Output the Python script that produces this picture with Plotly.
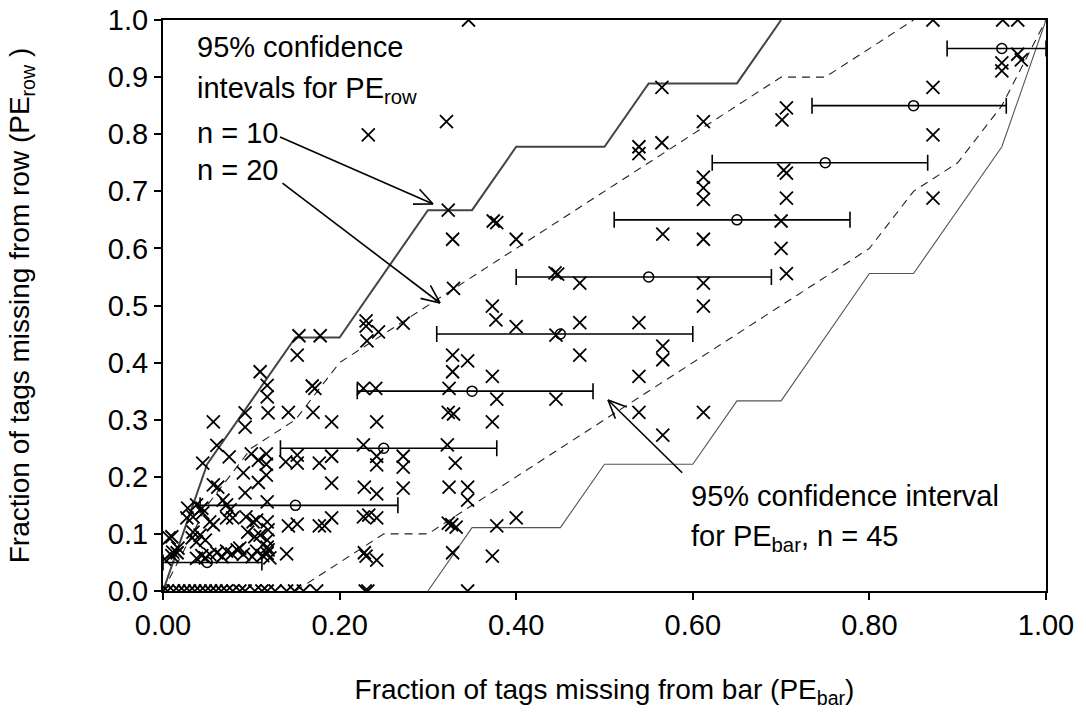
import math
import plotly.graph_objects as go

# ---------------- data ----------------
# observed points (PE_bar, PE_row)
pe_bar = [
    0.346, 0.872, 0.951, 0.968, 0.968, 0.972, 0.950, 0.950, 0.872, 0.565,
    0.706, 0.701, 0.612, 0.321, 0.2325, 0.872, 0.565, 0.539, 0.539, 0.703,
    0.706, 0.612, 0.612, 0.612, 0.706, 0.872, 0.323, 0.700, 0.374, 0.378,
    0.566, 0.328, 0.400, 0.612, 0.700, 0.444, 0.447, 0.706, 0.472, 0.612,
    0.329, 0.373, 0.612, 0.377, 0.400, 0.472, 0.539, 0.272, 0.230, 0.230,
    0.244, 0.231, 0.445, 0.154, 0.178, 0.566, 0.566, 0.152, 0.328, 0.345,
    0.472, 0.110, 0.328, 0.373, 0.539, 0.118, 0.118, 0.169, 0.172, 0.227,
    0.241, 0.324, 0.378, 0.445, 0.323, 0.329, 0.539, 0.612, 0.373, 0.057,
    0.093, 0.093, 0.119, 0.142, 0.170, 0.191, 0.242, 0.566, 0.322, 0.061,
    0.227, 0.075, 0.045, 0.100, 0.108, 0.117, 0.117, 0.139, 0.152, 0.152,
    0.177, 0.191, 0.242, 0.242, 0.272, 0.272, 0.331, 0.057, 0.062, 0.091,
    0.093, 0.108, 0.117, 0.118, 0.191, 0.228, 0.242, 0.272, 0.324, 0.345,
    0.345, 0.028, 0.027, 0.034, 0.038, 0.044, 0.045, 0.053, 0.057, 0.068,
    0.072, 0.076, 0.072, 0.079, 0.094, 0.102, 0.106, 0.118, 0.119, 0.142,
    0.152, 0.177, 0.183, 0.191, 0.227, 0.233, 0.242, 0.323, 0.332, 0.327,
    0.378, 0.400, 0.007, 0.010, 0.017, 0.011, 0.033, 0.034, 0.038, 0.042,
    0.048, 0.096, 0.104, 0.110, 0.118, 0.118, 0.119,
    0.002, 0.010, 0.016, 0.038, 0.044, 0.048, 0.053, 0.061, 0.067, 0.072,
    0.078, 0.084, 0.087, 0.091, 0.101, 0.106, 0.113, 0.118, 0.121,
    0.140, 0.228, 0.230, 0.242, 0.328, 0.373,
    0.000, 0.005, 0.012, 0.018, 0.024, 0.030, 0.036, 0.042, 0.048, 0.054,
    0.060, 0.066, 0.072, 0.079, 0.087, 0.093, 0.104, 0.112, 0.118, 0.127,
    0.140, 0.149, 0.159, 0.174, 0.229, 0.232, 0.345,
]
pe_row = [
    1.000, 1.000, 1.000, 1.000, 0.940, 0.930, 0.925, 0.911, 0.882, 0.882,
    0.846, 0.825, 0.822, 0.822, 0.799, 0.799, 0.785, 0.778, 0.766, 0.737,
    0.732, 0.725, 0.706, 0.686, 0.688, 0.688, 0.667, 0.648, 0.648, 0.645,
    0.625, 0.616, 0.616, 0.616, 0.600, 0.557, 0.555, 0.556, 0.539, 0.539,
    0.530, 0.499, 0.499, 0.475, 0.463, 0.470, 0.470, 0.469, 0.473, 0.464,
    0.454, 0.438, 0.448, 0.447, 0.447, 0.429, 0.405, 0.413, 0.413, 0.403,
    0.413, 0.384, 0.384, 0.376, 0.376, 0.360, 0.340, 0.359, 0.355, 0.355,
    0.355, 0.355, 0.336, 0.336, 0.313, 0.310, 0.313, 0.313, 0.296, 0.296,
    0.312, 0.287, 0.312, 0.313, 0.313, 0.296, 0.296, 0.273, 0.256, 0.255,
    0.256, 0.235, 0.224, 0.240, 0.229, 0.240, 0.222, 0.226, 0.238, 0.224,
    0.224, 0.236, 0.236, 0.221, 0.236, 0.217, 0.224, 0.186, 0.182, 0.207,
    0.172, 0.190, 0.203, 0.156, 0.189, 0.182, 0.170, 0.180, 0.182, 0.182,
    0.159, 0.145, 0.128, 0.130, 0.151, 0.145, 0.137, 0.121, 0.116, 0.159,
    0.151, 0.142, 0.128, 0.128, 0.130, 0.121, 0.124, 0.121, 0.107, 0.114,
    0.117, 0.114, 0.114, 0.128, 0.130, 0.133, 0.128, 0.119, 0.112, 0.116,
    0.114, 0.128, 0.093, 0.095, 0.075, 0.068, 0.093, 0.103, 0.086, 0.098,
    0.089, 0.103, 0.095, 0.098, 0.089, 0.077, 0.072,
    0.056, 0.062, 0.067, 0.057, 0.062, 0.058, 0.064, 0.067, 0.060, 0.070,
    0.065, 0.072, 0.075, 0.064, 0.060, 0.070, 0.062, 0.066, 0.058,
    0.065, 0.067, 0.061, 0.054, 0.067, 0.061,
    0.000, 0.000, 0.000, 0.000, 0.000, 0.000, 0.000, 0.000, 0.000, 0.000,
    0.000, 0.000, 0.000, 0.000, 0.000, 0.000, 0.000, 0.000, 0.000, 0.000,
    0.000, 0.000, 0.000, 0.000, 0.000, 0.000, 0.000,
]

# 95% CI for PE_bar (n = 45) at each PE_row level
ci_center = [0.05, 0.15, 0.25, 0.35, 0.45, 0.55, 0.65, 0.75, 0.85, 0.95]
ci_minus = [0.050, 0.108, 0.117, 0.130, 0.140, 0.150, 0.139, 0.128, 0.115, 0.062]
ci_plus = [0.062, 0.116, 0.128, 0.137, 0.150, 0.139, 0.128, 0.116, 0.105, 0.050]

# 95% CI for PE_row, n = 10 (solid)
n10_upper_x = [0.0, 0.05, 0.10, 0.15, 0.20, 0.30, 0.35, 0.40, 0.50, 0.55, 0.65, 0.70]
n10_upper_y = [0.0, 0.222, 0.333, 0.444, 0.444, 0.667, 0.667, 0.778, 0.778, 0.889, 0.889, 1.0]
n10_lower_x = [0.30, 0.35, 0.45, 0.50, 0.60, 0.65, 0.70, 0.80, 0.85, 0.90, 0.95, 1.0]
n10_lower_y = [0.0, 0.111, 0.111, 0.222, 0.222, 0.333, 0.333, 0.556, 0.556, 0.667, 0.778, 1.0]

# 95% CI for PE_row, n = 20 (dashed)
n20_upper_x = [0.0, 0.05, 0.10, 0.15, 0.20, 0.25, 0.30, 0.35, 0.40, 0.45, 0.50, 0.55,
               0.60, 0.65, 0.70, 0.75, 0.80, 0.85]
n20_upper_y = [0.0, 0.15, 0.25, 0.30, 0.40, 0.45, 0.50, 0.55, 0.60, 0.65, 0.70, 0.75,
               0.80, 0.85, 0.90, 0.90, 0.95, 1.0]
n20_lower_x = [0.15, 0.20, 0.25, 0.30, 0.35, 0.40, 0.45, 0.50, 0.55, 0.60, 0.65, 0.70,
               0.75, 0.80, 0.85, 0.90, 0.95, 1.0]
n20_lower_y = [0.0, 0.05, 0.10, 0.10, 0.15, 0.20, 0.25, 0.30, 0.35, 0.40, 0.45, 0.50,
               0.55, 0.60, 0.70, 0.75, 0.85, 1.0]

x_ticks = [0.0, 0.2, 0.4, 0.6, 0.8, 1.0]
x_tick_text = ["0.00", "0.20", "0.40", "0.60", "0.80", "1.00"]
y_ticks = [i / 10 for i in range(11)]
y_tick_text = ["%.1f" % v for v in y_ticks]

# ---------------- figure ----------------
W, H = 1086, 715
ML, MR, MT, MB = 163, 40, 20, 124
PW, PH = W - ML - MR, H - MT - MB
FONT = "Arial, Liberation Sans, sans-serif"

fig = go.Figure()

fig.add_trace(go.Scatter(x=n20_upper_x, y=n20_upper_y, mode="lines",
                         line=dict(color="#222222", width=1.1, dash="8px,6px")))
fig.add_trace(go.Scatter(x=n20_lower_x, y=n20_lower_y, mode="lines",
                         line=dict(color="#222222", width=1.1, dash="8px,6px")))
fig.add_trace(go.Scatter(x=n10_upper_x, y=n10_upper_y, mode="lines",
                         line=dict(color="#444444", width=2)))
fig.add_trace(go.Scatter(x=n10_lower_x, y=n10_lower_y, mode="lines",
                         line=dict(color="#555555", width=1.1)))

fig.add_trace(go.Scatter(x=pe_bar, y=pe_row, mode="markers",
                         marker=dict(symbol="x-thin", size=13, color="black",
                                     line=dict(color="black", width=1.8))))

fig.add_trace(go.Scatter(x=ci_center, y=ci_center, mode="markers",
                         marker=dict(symbol="circle-open", size=10, color="black",
                                     line=dict(color="black", width=1.5)),
                         error_x=dict(type="data", symmetric=False, array=ci_plus,
                                      arrayminus=ci_minus, color="black",
                                      thickness=1.6, width=8)))


def arrow(x0, y0, x1, y1, L=20, ang=24):
    dx, dy = (x1 - x0) * PW, (y1 - y0) * PH
    n = math.hypot(dx, dy)
    ux, uy = dx / n, dy / n
    shapes = [dict(type="line", xref="x", yref="y", x0=x0, y0=y0, x1=x1, y1=y1,
                   line=dict(color="black", width=1.6))]
    for s in (1, -1):
        a = math.radians(ang) * s
        rx = -(ux * math.cos(a) - uy * math.sin(a))
        ry = -(ux * math.sin(a) + uy * math.cos(a))
        shapes.append(dict(type="line", xref="x", yref="y", x0=x1, y0=y1,
                           x1=x1 + rx * L / PW, y1=y1 + ry * L / PH,
                           line=dict(color="black", width=1.6)))
    return shapes


shapes = []
shapes += arrow(0.1325, 0.795, 0.3058, 0.6778)
shapes += arrow(0.1353, 0.7145, 0.3137, 0.5044)
shapes += arrow(0.588, 0.207, 0.504, 0.3345)

ann_font = dict(family=FONT, size=29, color="black")
annotations = [
    dict(x=0.036, y=0.953, text="95% confidence"),
    dict(x=0.036, y=0.878, text="intevals for PE<sub>row</sub>"),
    dict(x=0.036, y=0.802, text="n = 10"),
    dict(x=0.036, y=0.737, text="n = 20"),
    dict(x=0.596, y=0.166, text="95% confidence interval"),
    dict(x=0.596, y=0.092, text="for PE<sub>bar</sub>, n = 45"),
]
for a in annotations:
    a.update(xref="x", yref="y", xanchor="left", yanchor="middle",
             showarrow=False, font=ann_font)

axis_common = dict(showline=True, linecolor="black", linewidth=2, mirror=True,
                   ticks="outside", ticklen=7, tickwidth=1.5, tickcolor="black",
                   showgrid=False, zeroline=False, automargin=False,
                   tickfont=dict(family=FONT, size=29, color="black"))

fig.update_layout(
    width=W, height=H,
    margin=dict(l=ML, r=MR, t=MT, b=MB),
    paper_bgcolor="white", plot_bgcolor="white",
    showlegend=False,
    shapes=shapes,
    annotations=annotations,
    xaxis=dict(range=[0, 1], tickvals=x_ticks, ticktext=x_tick_text,
               title=dict(text="Fraction of tags missing from bar (PE<sub>bar</sub>)",
                          font=dict(family=FONT, size=28, color="black"), standoff=40),
               **axis_common),
    yaxis=dict(range=[0, 1], tickvals=y_ticks, ticktext=y_tick_text,
               title=dict(text="Fraction of tags missing from row (PE<sub>row</sub> )",
                          font=dict(family=FONT, size=28, color="black"), standoff=70),
               **axis_common),
)

# remove the browser's default 8px body margin so the figure sits at (0, 0)
fig.write_html("out.html", config={"displayModeBar": False},
               post_script="document.body.style.margin='0px';")
